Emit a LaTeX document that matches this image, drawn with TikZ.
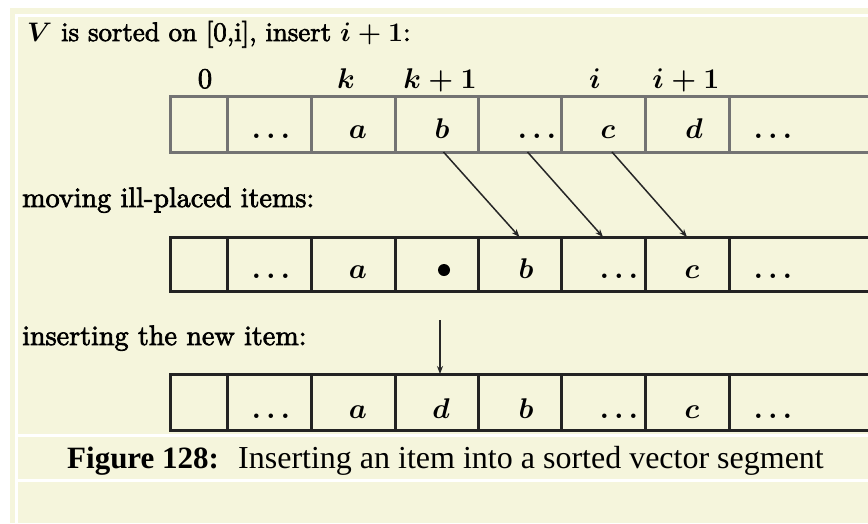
\RequirePackage{fix-cm}
\documentclass[tikz,border=0pt]{standalone}
\usepackage{fontspec}
\setmainfont{lmroman10-regular.otf}[FakeBold=2.5]
\newfontfamily\capfont{Liberation Serif}
\usetikzlibrary{arrows.meta}
\definecolor{bg}{RGB}{245,245,220}
\definecolor{rowa}{RGB}{115,115,115}
\definecolor{rowb}{RGB}{35,35,35}
\begin{document}
\begin{tikzpicture}[x=1pt,y=-1pt,
  lbl/.style={anchor=base, inner sep=0pt, font=\fontsize{28.5}{34}\selectfont\boldmath},
  head/.style={anchor=base west, inner sep=0pt, font=\fontsize{28.1}{34}\selectfont\boldmath},
  cellbox/.style={draw=#1, line width=3pt, inner sep=0pt, outer sep=0pt, anchor=north west},
  arr/.style={-{Stealth[length=8pt,width=6pt]}, line width=1.5pt, draw=black!85},
  blob/.style={circle, fill=black, inner sep=0pt, minimum size=12pt}]
\useasboundingbox (0,0) rectangle (868,523);
\clip (0,0) rectangle (868,523);
% background
\fill[white] (0,0) rectangle (868,523);
\fill[bg] (10,8) rectangle (868,523);
\draw[white, line width=3pt] (16.7,523) -- (16.7,15.7) -- (868,15.7);
\draw[white, line width=3pt] (16.7,435.8) -- (868,435.8);
\draw[white, line width=3pt] (16.7,480.2) -- (868,480.2);
% headings
\node[head, font=\fontsize{26.8}{34}\selectfont\boldmath] (title) at (27,41) {$V$ is sorted on [0,i], insert $i+1$:};
\node[head] (move) at (22,207) {moving ill-placed items:};
\node[head] (ins) at (22,345) {inserting the new item:};
% rows of cells
\foreach \r/\top/\h/\c in {1/96/56/rowa, 2/237/54/rowb, 3/374/56/rowb} {
  \foreach \i/\a/\b in {1/170/227, 2/227/311, 3/311/395, 4/395/478, 5/478/561, 6/561/645, 7/645/729, 8/729/900} {
    \node[cellbox=\c, minimum width={\b-\a}, minimum height=\h] (r\r-\i) at (\a,\top) {};
  }
}
% index labels
\node[lbl] (i0) at (205,88) {0};
\node[lbl] (ik) at (346,88) {$k$};
\node[lbl] (ik1) at (440,88) {$k+1$};
\node[lbl] (ii) at (595,88) {$i$};
\node[lbl] (ii1) at (686,88) {$i+1$};
% row 1 contents
\node[lbl] (a12) at (271,138) {$\ldots$};
\node[lbl] (a13) at (358,138) {$a$};
\node[lbl] (a14) at (442,138) {$b$};
\node[lbl] (a15) at (537,138) {$\ldots$};
\node[lbl] (a16) at (608,138) {$c$};
\node[lbl] (a17) at (694,138) {$d$};
\node[lbl] (a18) at (773,138) {$\ldots$};
% row 2 contents
\node[lbl] (b12) at (271,278) {$\ldots$};
\node[lbl] (b13) at (358,278) {$a$};
\node[blob] (b14) at (444,270) {};
\node[lbl] (b15) at (526,278) {$b$};
\node[lbl] (b16) at (619,278) {$\ldots$};
\node[lbl] (b17) at (692,278) {$c$};
\node[lbl] (b18) at (773,278) {$\ldots$};
% row 3 contents
\node[lbl] (c12) at (271,418) {$\ldots$};
\node[lbl] (c13) at (358,418) {$a$};
\node[lbl] (c14) at (441,418) {$d$};
\node[lbl] (c15) at (526,418) {$b$};
\node[lbl] (c16) at (619,418) {$\ldots$};
\node[lbl] (c17) at (692,418) {$c$};
\node[lbl] (c18) at (773,418) {$\ldots$};
% moving arrows
\draw[arr] ([xshift=7pt]r1-4.south) -- (r2-5.north);
\draw[arr] ([xshift=8pt]r1-5.south) -- (r2-6.north);
\draw[arr] ([xshift=9pt]r1-6.south) -- (r2-7.north);
% insertion arrow
\coordinate (newitem) at (440,320);
\draw[arr] (newitem) -- (newitem |- r3-4.north);
% caption
\node[anchor=base west, inner sep=0pt, font=\capfont\bfseries\fontsize{31}{36}\selectfont] (capnum) at (67,468) {Figure 128:};
\node[anchor=base west, inner sep=0pt, font=\capfont\fontsize{32}{36}\selectfont] (captext) at (238,468)
  {Inserting an item into a sorted vector segment};
\end{tikzpicture}
\end{document}
